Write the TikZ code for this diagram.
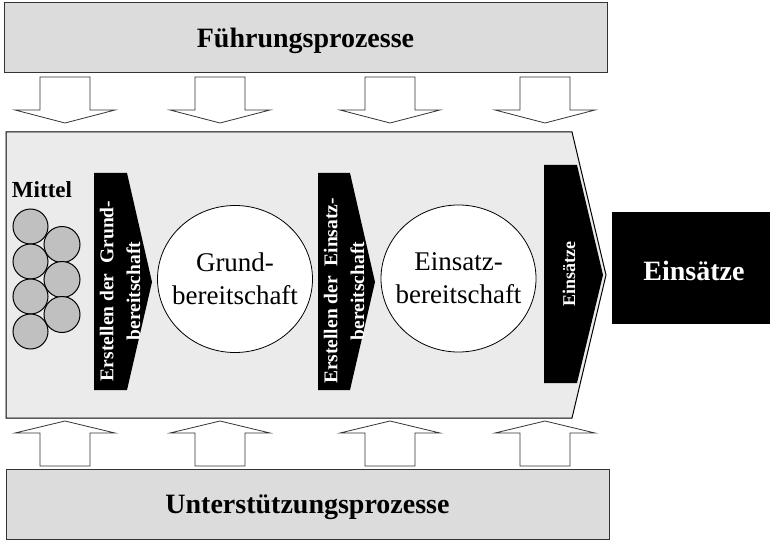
\documentclass[tikz,border=0pt]{standalone}
\usepackage{fontspec}
\setmainfont{Liberation Serif}
\usetikzlibrary{shapes.geometric}
\definecolor{boxgray}{HTML}{DCDCDC}
\definecolor{panelgray}{HTML}{EBEBEB}
\definecolor{ballgray}{HTML}{C0C0C0}
\begin{document}
\begin{tikzpicture}[x=1pt,y=-1pt,line join=miter,
  procbox/.style={draw=black!80,fill=boxgray,line width=1pt,inner sep=0pt,
    font=\fontsize{28}{32}\selectfont\bfseries,text height=19pt,text depth=0pt},
  stagecircle/.style={ellipse,draw=black,fill=white,line width=0.8pt,inner sep=0pt,
    minimum width=155pt,minimum height=147pt},
  stagetext/.style={align=center,inner sep=0pt,font=\fontsize{27}{33}\selectfont},
  ball/.style={circle,draw=black,fill=ballgray,line width=1pt,inner sep=0pt,minimum size=35pt},
  steplabel/.style={rotate=90,anchor=base,text=white,inner sep=0pt,
    font=\fontsize{19.5}{24}\selectfont\bfseries},
  hollow/.style={draw=black!80,fill=white,line width=0.8pt},
  downarrow/.pic={\draw[hollow] (-25,0) -- (25,0) -- (25,33) -- (50,33) -- (0,46)
    -- (-50,33) -- (-25,33) -- cycle;},
  uparrow/.pic={\draw[hollow] (-25,45) -- (25,45) -- (25,12) -- (50,12) -- (0,0)
    -- (-50,12) -- (-25,12) -- cycle;}]
\useasboundingbox (0,0) rectangle (770,540);

% leadership and support process bars
\node[procbox,minimum width=603pt,minimum height=70pt] (fuehrung) at (305.5,38) {Führungsprozesse};
\node[procbox,minimum width=603pt,minimum height=70pt] (unterstuetzung) at (307.5,504) {Unterstützungsprozesse};

% arrows from the bars into the process panel
\foreach \c in {65,220,390,545} {
  \pic at (\c,77) {downarrow};
  \pic at (\c,421) {uparrow};
}

% process panel
\draw[line width=1pt,fill=panelgray] (6,132) -- (572,132) -- (606,275) -- (572,418) -- (6,418) -- cycle;

% resources
\node[anchor=base,inner sep=0pt,font=\fontsize{23}{26}\selectfont\bfseries] (mittel) at (42,197) {Mittel};
\foreach \y [count=\i] in {226.5,261.5,296.5,331.5}
  \node[ball] (m\i) at (30.5,\y) {};
\foreach \y [count=\i from 5] in {244.5,279.5,314.5}
  \node[ball,minimum size=36pt] (m\i) at (62,\y) {};

% black step arrows
\fill[black] (94,173) -- (127,173) -- (152,282) -- (127,390) -- (94,390) -- cycle;
\fill[black] (318,173) -- (350,173) -- (375,282) -- (350,390) -- (318,390) -- cycle;
\fill[black] (544,165) -- (577,165) -- (603,275) -- (577,383) -- (544,383) -- cycle;

\node[steplabel] (s1a) at (113.3,291) {Erstellen der\hspace{0.25em} Grund-};
\node[steplabel] (s1b) at (140,291) {bereitschaft};
\node[steplabel] (s2a) at (337.3,291) {Erstellen der\hspace{0.25em} Einsatz-};
\node[steplabel] (s2b) at (364,291) {bereitschaft};
\node[steplabel,font=\fontsize{18}{22}\selectfont\bfseries] (s3) at (575,274) {Einsätze};

% readiness states
\node[stagecircle] (grund) at (235,279) {};
\node[stagetext] (grundtext) at (grund.center) {Grund-\\bereitschaft};
\node[stagecircle] (einsatz) at (458.5,278.5) {};
\node[stagetext] (einsatztext) at (einsatz.center) {Einsatz-\\bereitschaft};

% output
\node[fill=black,text=white,inner sep=0pt,minimum width=164pt,minimum height=112pt,
  font=\fontsize{28}{32}\selectfont\bfseries,text height=24pt,text depth=0pt] (einsaetze) at (694,268) {Einsätze};
\end{tikzpicture}
\end{document}
